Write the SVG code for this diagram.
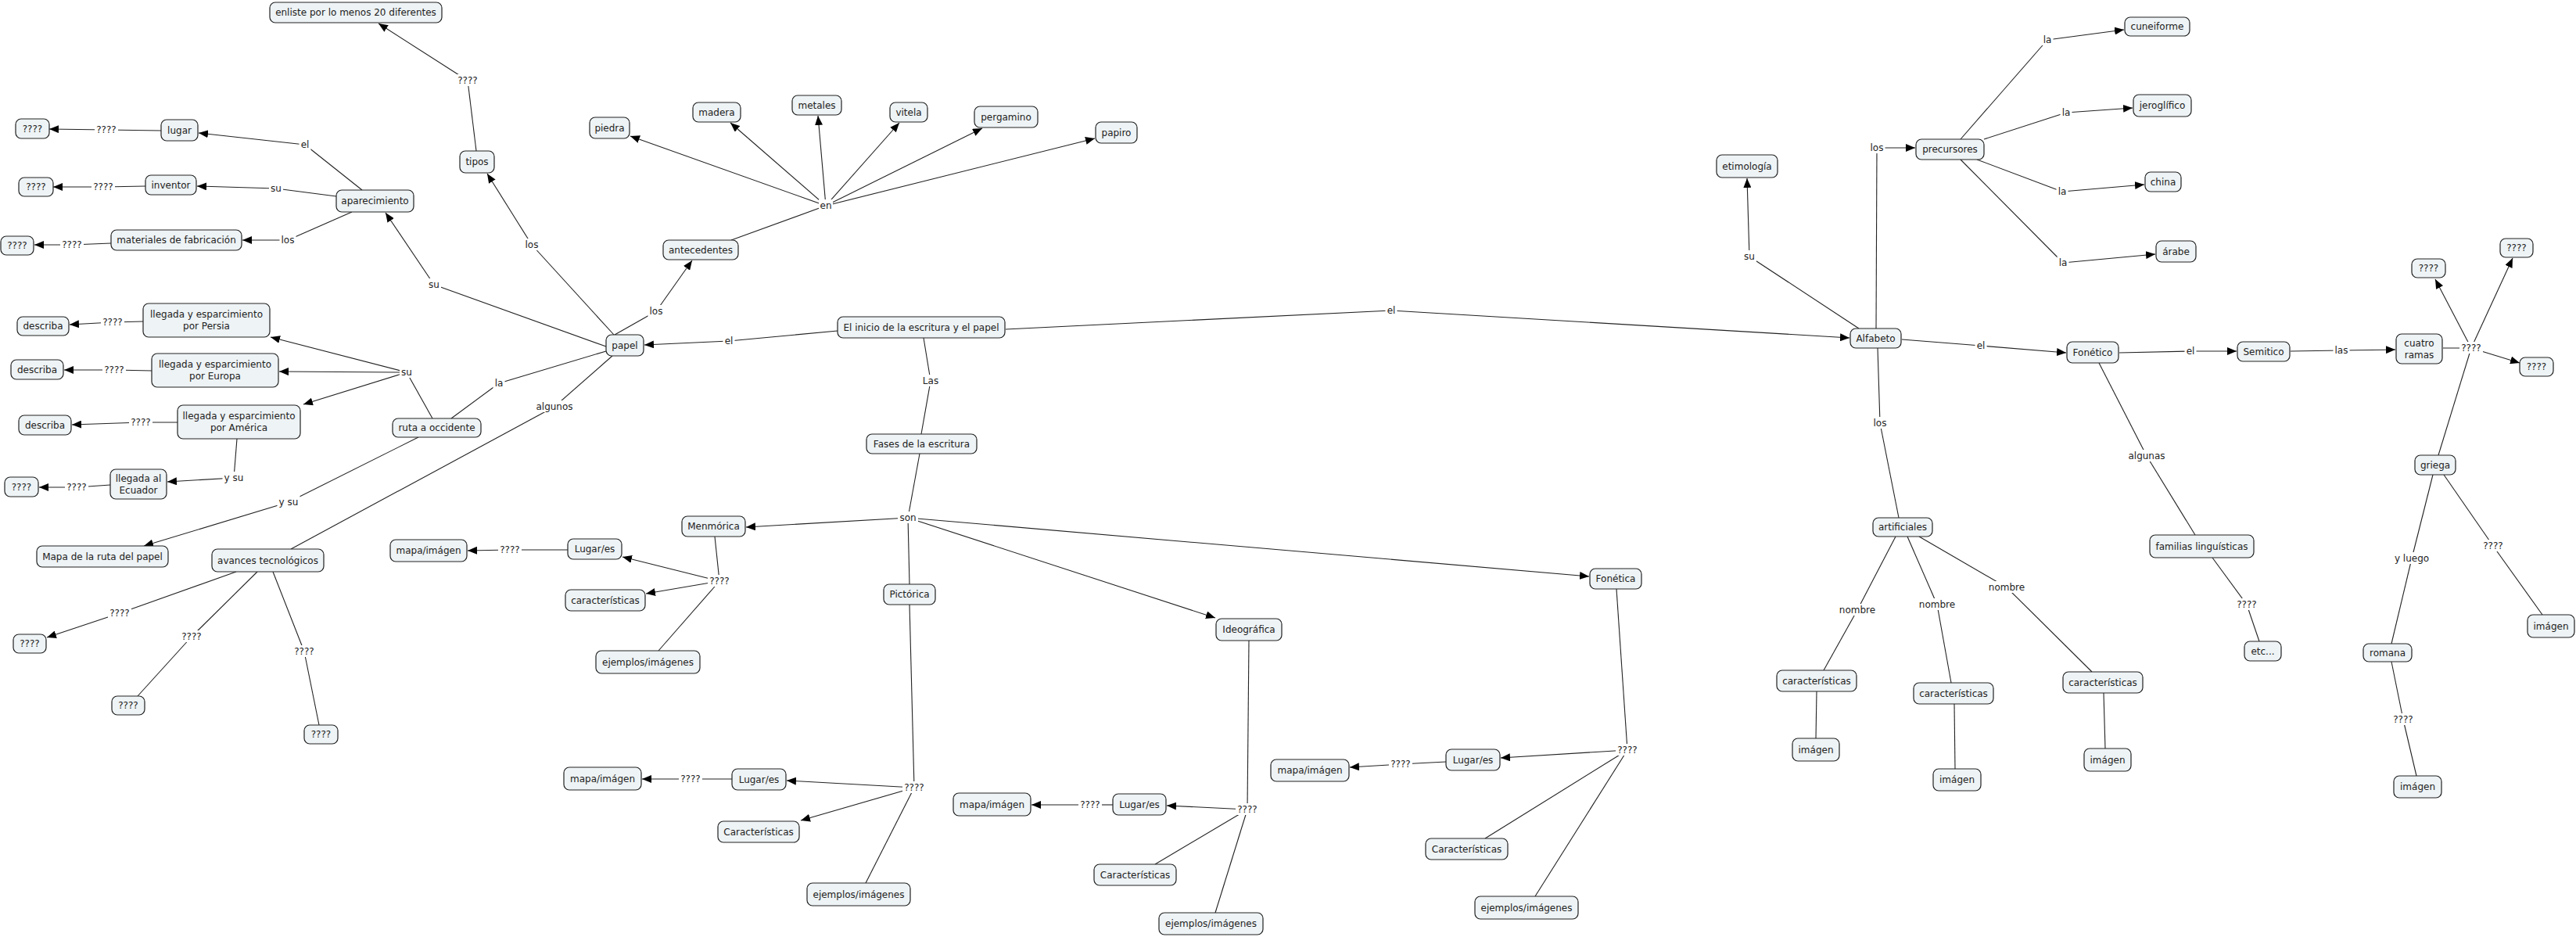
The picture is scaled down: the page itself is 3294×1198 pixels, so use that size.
<svg xmlns="http://www.w3.org/2000/svg" width="3294" height="1198" viewBox="0 0 3294 1198">
<style>
.bg{fill:#ffffff}
.node rect{fill:#eef3f5;stroke:#222;stroke-width:1.2}
.node text,.lbl text{font-family:"DejaVu Sans","Liberation Sans",sans-serif;font-size:12px;fill:#222;text-anchor:middle}
.lbl rect{fill:#ffffff;stroke:none}
#connectors path{fill:none;stroke:#222;stroke-width:1.1}
#connectors path.a{marker-end:url(#arr)}
</style>
<defs>
<marker id="arr" viewBox="0 0 12 10" markerWidth="12" markerHeight="10" refX="12" refY="5" orient="auto" markerUnits="userSpaceOnUse">
<path d="M0,0 L12,5 L0,10 z" fill="#000"/>
</marker>
</defs>
<rect class="bg" x="0" y="0" width="3294" height="1198"/>
<g id="connectors">
<!-- lines -->
<path d="M1071,423 L932,436"/><path class="a" d="M932,436 L824,441"/>
<path d="M786,428 L839,398"/><path class="a" d="M839,398 L885,333"/>
<path d="M935,307 L1056,263"/>
<path class="a" d="M1056,263 L806,174"/>
<path class="a" d="M1056,263 L934,157"/>
<path class="a" d="M1056,263 L1046,148"/>
<path class="a" d="M1056,263 L1150,157"/>
<path class="a" d="M1056,263 L1256,164"/>
<path class="a" d="M1056,263 L1400,177"/>
<path d="M785,428 L680,313"/><path class="a" d="M680,313 L623,222"/>
<path d="M609,193 L598,103"/><path class="a" d="M598,103 L484,30"/>
<path d="M775,443 L555,364"/><path class="a" d="M555,364 L493,272"/>
<path d="M463,243 L390,185"/><path class="a" d="M390,185 L254,170"/>
<path d="M430,251 L353,241"/><path class="a" d="M353,241 L252,238"/>
<path d="M450,271 L368,307"/><path class="a" d="M368,307 L310,307"/>
<path d="M206,167 L136,166"/><path class="a" d="M136,166 L63,165"/>
<path d="M186,238 L132,239"/><path class="a" d="M132,239 L68,239"/>
<path d="M142,311 L92,313"/><path class="a" d="M92,313 L44,313"/>
<path d="M775,449 L638,490"/><path d="M638,490 L577,535"/>
<path d="M553,535 L520,476"/>
<path class="a" d="M520,476 L346,431"/>
<path class="a" d="M520,476 L357,475"/>
<path class="a" d="M520,476 L388,517"/>
<path d="M183,411 L144,412"/><path class="a" d="M144,412 L89,415"/>
<path d="M194,474 L146,473"/><path class="a" d="M146,473 L82,473"/>
<path d="M227,540 L180,540"/><path class="a" d="M180,540 L92,543"/>
<path d="M303,561 L299,611"/><path class="a" d="M299,611 L214,616"/>
<path d="M141,620 L98,623"/><path class="a" d="M98,623 L50,623"/>
<path d="M535,559 L369,642"/><path class="a" d="M369,642 L184,698"/>
<path d="M783,455 L709,520"/><path d="M709,520 L372,702"/>
<path d="M302,731 L153,784"/><path class="a" d="M153,784 L60,815"/>
<path d="M329,731 L245,814"/><path d="M245,814 L176,890"/>
<path d="M349,731 L389,833"/><path d="M389,833 L408,927"/>
<path d="M1181,432 L1190,487"/><path d="M1190,487 L1178,555"/>
<path d="M1176,580 L1161,662"/>
<path class="a" d="M1161,662 L954,674"/>
<path d="M1161,662 L1163,747"/>
<path class="a" d="M1161,662 L1554,790"/>
<path class="a" d="M1161,662 L2032,737"/>
<path d="M914,686 L920,743"/>
<path class="a" d="M920,743 L796,712"/>
<path class="a" d="M920,743 L826,759"/>
<path d="M920,743 L842,832"/>
<path d="M726,703 L652,703"/><path class="a" d="M652,703 L598,704"/>
<path d="M1163,773 L1169,1007"/>
<path class="a" d="M1169,1007 L1006,998"/>
<path class="a" d="M1169,1007 L1024,1049"/>
<path d="M1169,1007 L1107,1129"/>
<path d="M936,996 L883,996"/><path class="a" d="M883,996 L821,996"/>
<path d="M1597,819 L1595,1035"/>
<path class="a" d="M1595,1035 L1492,1030"/>
<path d="M1595,1035 L1477,1105"/>
<path d="M1595,1035 L1554,1167"/>
<path d="M1423,1029 L1394,1029"/><path class="a" d="M1394,1029 L1319,1029"/>
<path d="M2067,753 L2081,959"/>
<path class="a" d="M2081,959 L1919,969"/>
<path d="M2081,959 L1899,1072"/>
<path d="M2081,959 L1963,1146"/>
<path d="M1849,974 L1791,977"/><path class="a" d="M1791,977 L1726,981"/>
<path d="M1286,421 L1779,397"/><path class="a" d="M1779,397 L2365,432"/>
<path d="M2377,420 L2237,328"/><path class="a" d="M2237,328 L2234,228"/>
<path d="M2399,420 L2400,189"/><path class="a" d="M2400,189 L2449,189"/>
<path d="M2507,178 L2618,51"/><path class="a" d="M2618,51 L2716,38"/>
<path d="M2537,178 L2642,144"/><path class="a" d="M2642,144 L2727,138"/>
<path d="M2528,204 L2637,245"/><path class="a" d="M2637,245 L2742,236"/>
<path d="M2507,204 L2638,336"/><path class="a" d="M2638,336 L2756,325"/>
<path d="M2432,434 L2533,442"/><path class="a" d="M2533,442 L2642,451"/>
<path d="M2710,451 L2801,449"/><path class="a" d="M2801,449 L2860,449"/>
<path d="M2929,449 L2994,448"/><path class="a" d="M2994,448 L3063,447"/>
<path d="M3124,445 L3160,445"/>
<path class="a" d="M3160,445 L3114,357"/>
<path class="a" d="M3160,445 L3213,330"/>
<path class="a" d="M3160,445 L3222,464"/>
<path d="M3160,445 L3118,582"/>
<path d="M2401,445 L2404,541"/><path d="M2404,541 L2428,662"/>
<path d="M2424,686 L2375,780"/><path d="M2375,780 L2332,857"/>
<path d="M2439,686 L2477,773"/><path d="M2477,773 L2495,873"/>
<path d="M2454,686 L2566,751"/><path d="M2566,751 L2675,859"/>
<path d="M2323,884 L2322,944"/>
<path d="M2499,900 L2500,983"/>
<path d="M2690,886 L2692,957"/>
<path d="M2684,464 L2745,583"/><path d="M2745,583 L2807,684"/>
<path d="M2829,713 L2873,773"/><path d="M2873,773 L2889,820"/>
<path d="M3111,607 L3084,714"/><path d="M3084,714 L3058,823"/>
<path d="M3125,607 L3188,698"/><path d="M3188,698 L3251,786"/>
<path d="M3058,846 L3073,920"/><path d="M3073,920 L3090,992"/>
<!-- labels -->
<g class="lbl"><rect x="924.5" y="428" width="15" height="15"/><text x="932" y="440">el</text></g>
<g class="lbl"><rect x="828.5" y="390" width="21" height="15"/><text x="839" y="402">los</text></g>
<g class="lbl"><rect x="1047" y="255" width="18" height="15"/><text x="1056" y="267">en</text></g>
<g class="lbl"><rect x="669.5" y="305" width="21" height="15"/><text x="680" y="317">los</text></g>
<g class="lbl"><rect x="583" y="95" width="30" height="15"/><text x="598" y="107">????</text></g>
<g class="lbl"><rect x="546" y="356" width="18" height="15"/><text x="555" y="368">su</text></g>
<g class="lbl"><rect x="382.5" y="177" width="15" height="15"/><text x="390" y="189">el</text></g>
<g class="lbl"><rect x="344" y="233" width="18" height="15"/><text x="353" y="245">su</text></g>
<g class="lbl"><rect x="357.5" y="299" width="21" height="15"/><text x="368" y="311">los</text></g>
<g class="lbl"><rect x="121" y="158" width="30" height="15"/><text x="136" y="170">????</text></g>
<g class="lbl"><rect x="117" y="231" width="30" height="15"/><text x="132" y="243">????</text></g>
<g class="lbl"><rect x="77" y="305" width="30" height="15"/><text x="92" y="317">????</text></g>
<g class="lbl"><rect x="630.5" y="482" width="15" height="15"/><text x="638" y="494">la</text></g>
<g class="lbl"><rect x="511" y="468" width="18" height="15"/><text x="520" y="480">su</text></g>
<g class="lbl"><rect x="129" y="404" width="30" height="15"/><text x="144" y="416">????</text></g>
<g class="lbl"><rect x="131" y="465" width="30" height="15"/><text x="146" y="477">????</text></g>
<g class="lbl"><rect x="165" y="532" width="30" height="15"/><text x="180" y="544">????</text></g>
<g class="lbl"><rect x="284.5" y="603" width="29" height="15"/><text x="299" y="615">y su</text></g>
<g class="lbl"><rect x="83" y="615" width="30" height="15"/><text x="98" y="627">????</text></g>
<g class="lbl"><rect x="354.5" y="634" width="29" height="15"/><text x="369" y="646">y su</text></g>
<g class="lbl"><rect x="683.5" y="512" width="51" height="15"/><text x="709" y="524">algunos</text></g>
<g class="lbl"><rect x="138" y="776" width="30" height="15"/><text x="153" y="788">????</text></g>
<g class="lbl"><rect x="230" y="806" width="30" height="15"/><text x="245" y="818">????</text></g>
<g class="lbl"><rect x="374" y="825" width="30" height="15"/><text x="389" y="837">????</text></g>
<g class="lbl"><rect x="1178" y="479" width="24" height="15"/><text x="1190" y="491">Las</text></g>
<g class="lbl"><rect x="1148" y="654" width="26" height="15"/><text x="1161" y="666">son</text></g>
<g class="lbl"><rect x="905" y="735" width="30" height="15"/><text x="920" y="747">????</text></g>
<g class="lbl"><rect x="637" y="695" width="30" height="15"/><text x="652" y="707">????</text></g>
<g class="lbl"><rect x="1154" y="999" width="30" height="15"/><text x="1169" y="1011">????</text></g>
<g class="lbl"><rect x="868" y="988" width="30" height="15"/><text x="883" y="1000">????</text></g>
<g class="lbl"><rect x="1580" y="1027" width="30" height="15"/><text x="1595" y="1039">????</text></g>
<g class="lbl"><rect x="1379" y="1021" width="30" height="15"/><text x="1394" y="1033">????</text></g>
<g class="lbl"><rect x="2066" y="951" width="30" height="15"/><text x="2081" y="963">????</text></g>
<g class="lbl"><rect x="1776" y="969" width="30" height="15"/><text x="1791" y="981">????</text></g>
<g class="lbl"><rect x="1771.5" y="389" width="15" height="15"/><text x="1779" y="401">el</text></g>
<g class="lbl"><rect x="2228" y="320" width="18" height="15"/><text x="2237" y="332">su</text></g>
<g class="lbl"><rect x="2389.5" y="181" width="21" height="15"/><text x="2400" y="193">los</text></g>
<g class="lbl"><rect x="2610.5" y="43" width="15" height="15"/><text x="2618" y="55">la</text></g>
<g class="lbl"><rect x="2634.5" y="136" width="15" height="15"/><text x="2642" y="148">la</text></g>
<g class="lbl"><rect x="2629.5" y="237" width="15" height="15"/><text x="2637" y="249">la</text></g>
<g class="lbl"><rect x="2630.5" y="328" width="15" height="15"/><text x="2638" y="340">la</text></g>
<g class="lbl"><rect x="2525.5" y="434" width="15" height="15"/><text x="2533" y="446">el</text></g>
<g class="lbl"><rect x="2793.5" y="441" width="15" height="15"/><text x="2801" y="453">el</text></g>
<g class="lbl"><rect x="2983.5" y="440" width="21" height="15"/><text x="2994" y="452">las</text></g>
<g class="lbl"><rect x="3145" y="437" width="30" height="15"/><text x="3160" y="449">????</text></g>
<g class="lbl"><rect x="2393.5" y="533" width="21" height="15"/><text x="2404" y="545">los</text></g>
<g class="lbl"><rect x="2349.5" y="772" width="51" height="15"/><text x="2375" y="784">nombre</text></g>
<g class="lbl"><rect x="2451.5" y="765" width="51" height="15"/><text x="2477" y="777">nombre</text></g>
<g class="lbl"><rect x="2540.5" y="743" width="51" height="15"/><text x="2566" y="755">nombre</text></g>
<g class="lbl"><rect x="2719.5" y="575" width="51" height="15"/><text x="2745" y="587">algunas</text></g>
<g class="lbl"><rect x="2858" y="765" width="30" height="15"/><text x="2873" y="777">????</text></g>
<g class="lbl"><rect x="3060" y="706" width="48" height="15"/><text x="3084" y="718">y luego</text></g>
<g class="lbl"><rect x="3173" y="690" width="30" height="15"/><text x="3188" y="702">????</text></g>
<g class="lbl"><rect x="3058" y="912" width="30" height="15"/><text x="3073" y="924">????</text></g>
</g>
<g id="n-enliste" class="node"><rect x="345" y="3" width="220" height="26" rx="7"/><text x="455" y="20">enliste por lo menos 20 diferentes</text></g>
<g id="n-tipos" class="node"><rect x="588" y="193" width="44" height="28" rx="7"/><text x="610" y="211">tipos</text></g>
<g id="n-lugar" class="node"><rect x="206" y="153" width="47" height="27" rx="7"/><text x="229.5" y="170.5">lugar</text></g>
<g id="n-q-lugar" class="node"><rect x="20" y="152" width="43" height="25" rx="7"/><text x="41.5" y="168.5">????</text></g>
<g id="n-inventor" class="node"><rect x="186" y="224" width="65" height="25" rx="7"/><text x="218.5" y="240.5">inventor</text></g>
<g id="n-q-inventor" class="node"><rect x="24" y="227" width="44" height="24" rx="7"/><text x="46" y="243">????</text></g>
<g id="n-aparecimiento" class="node"><rect x="430" y="243" width="99" height="28" rx="7"/><text x="479.5" y="261">aparecimiento</text></g>
<g id="n-materiales" class="node"><rect x="142" y="294" width="167" height="26" rx="7"/><text x="225.5" y="311">materiales de fabricación</text></g>
<g id="n-q-materiales" class="node"><rect x="1" y="302" width="42" height="24" rx="7"/><text x="22" y="318">????</text></g>
<g id="n-piedra" class="node"><rect x="754" y="150" width="51" height="27" rx="7"/><text x="779.5" y="167.5">piedra</text></g>
<g id="n-papel" class="node"><rect x="775" y="428" width="48" height="27" rx="7"/><text x="799" y="445.5">papel</text></g>
<g id="n-persia" class="node"><rect x="183" y="388" width="162" height="43" rx="7"/><text x="264" y="406">llegada y esparcimiento</text><text x="264" y="421">por Persia</text></g>
<g id="n-describa1" class="node"><rect x="22" y="405" width="66" height="24" rx="7"/><text x="55" y="421">describa</text></g>
<g id="n-europa" class="node"><rect x="194" y="452" width="162" height="43" rx="7"/><text x="275" y="470">llegada y esparcimiento</text><text x="275" y="485">por Europa</text></g>
<g id="n-describa2" class="node"><rect x="14" y="460" width="67" height="25" rx="7"/><text x="47.5" y="476.5">describa</text></g>
<g id="n-america" class="node"><rect x="227" y="518" width="157" height="43" rx="7"/><text x="305.5" y="536">llegada y esparcimiento</text><text x="305.5" y="551">por América</text></g>
<g id="n-describa3" class="node"><rect x="24" y="531" width="67" height="25" rx="7"/><text x="57.5" y="547.5">describa</text></g>
<g id="n-ruta" class="node"><rect x="502" y="535" width="113" height="24" rx="7"/><text x="558.5" y="551">ruta a occidente</text></g>
<g id="n-ecuador" class="node"><rect x="141" y="600" width="72" height="38" rx="7"/><text x="177" y="616">llegada al</text><text x="177" y="631">Ecuador</text></g>
<g id="n-q-ecuador" class="node"><rect x="6" y="610" width="43" height="25" rx="7"/><text x="27.5" y="626.5">????</text></g>
<g id="n-mapa-ruta" class="node"><rect x="47" y="698" width="168" height="27" rx="7"/><text x="131" y="715.5">Mapa de la ruta del papel</text></g>
<g id="n-avances" class="node"><rect x="271" y="702" width="143" height="29" rx="7"/><text x="342.5" y="720.5">avances tecnológicos</text></g>
<g id="n-q-av1" class="node"><rect x="17" y="811" width="42" height="24" rx="7"/><text x="38" y="827">????</text></g>
<g id="n-q-av2" class="node"><rect x="143" y="890" width="42" height="24" rx="7"/><text x="164" y="906">????</text></g>
<g id="n-q-av3" class="node"><rect x="389" y="927" width="43" height="24" rx="7"/><text x="410.5" y="943">????</text></g>
<g id="n-madera" class="node"><rect x="886" y="131" width="61" height="25" rx="7"/><text x="916.5" y="147.5">madera</text></g>
<g id="n-metales" class="node"><rect x="1013" y="122" width="63" height="25" rx="7"/><text x="1044.5" y="138.5">metales</text></g>
<g id="n-vitela" class="node"><rect x="1138" y="131" width="48" height="25" rx="7"/><text x="1162" y="147.5">vitela</text></g>
<g id="n-pergamino" class="node"><rect x="1246" y="136" width="81" height="27" rx="7"/><text x="1286.5" y="153.5">pergamino</text></g>
<g id="n-papiro" class="node"><rect x="1401" y="156" width="53" height="27" rx="7"/><text x="1427.5" y="173.5">papiro</text></g>
<g id="n-antecedentes" class="node"><rect x="848" y="307" width="96" height="25" rx="7"/><text x="896" y="323.5">antecedentes</text></g>
<g id="n-inicio" class="node"><rect x="1071" y="405" width="214" height="27" rx="7"/><text x="1178" y="422.5">El inicio de la escritura y el papel</text></g>
<g id="n-fases" class="node"><rect x="1108" y="555" width="141" height="25" rx="7"/><text x="1178.5" y="571.5">Fases de la escritura</text></g>
<g id="n-menmorica" class="node"><rect x="872" y="660" width="81" height="26" rx="7"/><text x="912.5" y="677">Menmórica</text></g>
<g id="n-lugar-m" class="node"><rect x="726" y="689" width="69" height="26" rx="7"/><text x="760.5" y="706">Lugar/es</text></g>
<g id="n-mapa-m" class="node"><rect x="499" y="690" width="98" height="28" rx="7"/><text x="548" y="708">mapa/imágen</text></g>
<g id="n-carac-m" class="node"><rect x="723" y="754" width="102" height="27" rx="7"/><text x="774" y="771.5">características</text></g>
<g id="n-ejemplos-m" class="node"><rect x="762" y="832" width="133" height="29" rx="7"/><text x="828.5" y="850.5">ejemplos/imágenes</text></g>
<g id="n-pictorica" class="node"><rect x="1130" y="747" width="66" height="26" rx="7"/><text x="1163" y="764">Pictórica</text></g>
<g id="n-lugar-p" class="node"><rect x="936" y="983" width="69" height="27" rx="7"/><text x="970.5" y="1000.5">Lugar/es</text></g>
<g id="n-mapa-p" class="node"><rect x="721" y="981" width="99" height="29" rx="7"/><text x="770.5" y="999.5">mapa/imágen</text></g>
<g id="n-carac-p" class="node"><rect x="918" y="1050" width="104" height="27" rx="7"/><text x="970" y="1067.5">Características</text></g>
<g id="n-ejemplos-p" class="node"><rect x="1032" y="1129" width="132" height="29" rx="7"/><text x="1098" y="1147.5">ejemplos/imágenes</text></g>
<g id="n-ideografica" class="node"><rect x="1555" y="791" width="84" height="28" rx="7"/><text x="1597" y="809">Ideográfica</text></g>
<g id="n-lugar-i" class="node"><rect x="1423" y="1015" width="68" height="27" rx="7"/><text x="1457" y="1032.5">Lugar/es</text></g>
<g id="n-mapa-i" class="node"><rect x="1219" y="1014" width="99" height="29" rx="7"/><text x="1268.5" y="1032.5">mapa/imágen</text></g>
<g id="n-carac-i" class="node"><rect x="1399" y="1105" width="105" height="27" rx="7"/><text x="1451.5" y="1122.5">Características</text></g>
<g id="n-ejemplos-i" class="node"><rect x="1482" y="1167" width="133" height="28" rx="7"/><text x="1548.5" y="1185">ejemplos/imágenes</text></g>
<g id="n-fonetica" class="node"><rect x="2033" y="727" width="66" height="26" rx="7"/><text x="2066" y="744">Fonética</text></g>
<g id="n-lugar-f" class="node"><rect x="1849" y="958" width="69" height="27" rx="7"/><text x="1883.5" y="975.5">Lugar/es</text></g>
<g id="n-mapa-f" class="node"><rect x="1625" y="971" width="100" height="28" rx="7"/><text x="1675" y="989">mapa/imágen</text></g>
<g id="n-carac-f" class="node"><rect x="1823" y="1072" width="105" height="27" rx="7"/><text x="1875.5" y="1089.5">Características</text></g>
<g id="n-ejemplos-f" class="node"><rect x="1886" y="1146" width="132" height="29" rx="7"/><text x="1952" y="1164.5">ejemplos/imágenes</text></g>
<g id="n-etimologia" class="node"><rect x="2195" y="198" width="78" height="29" rx="7"/><text x="2234" y="216.5">etimología</text></g>
<g id="n-alfabeto" class="node"><rect x="2366" y="420" width="65" height="25" rx="7"/><text x="2398.5" y="436.5">Alfabeto</text></g>
<g id="n-precursores" class="node"><rect x="2450" y="178" width="87" height="26" rx="7"/><text x="2493.5" y="195">precursores</text></g>
<g id="n-cuneiforme" class="node"><rect x="2717" y="22" width="83" height="24" rx="7"/><text x="2758.5" y="38">cuneiforme</text></g>
<g id="n-jeroglifico" class="node"><rect x="2728" y="121" width="74" height="28" rx="7"/><text x="2765" y="139">jeroglífico</text></g>
<g id="n-china" class="node"><rect x="2743" y="220" width="46" height="25" rx="7"/><text x="2766" y="236.5">china</text></g>
<g id="n-arabe" class="node"><rect x="2757" y="308" width="51" height="27" rx="7"/><text x="2782.5" y="325.5">árabe</text></g>
<g id="n-fonetico" class="node"><rect x="2643" y="437" width="66" height="27" rx="7"/><text x="2676" y="454.5">Fonético</text></g>
<g id="n-semitico" class="node"><rect x="2861" y="437" width="67" height="25" rx="7"/><text x="2894.5" y="453.5">Semitico</text></g>
<g id="n-cuatro" class="node"><rect x="3064" y="427" width="59" height="38" rx="7"/><text x="3093.5" y="442.5">cuatro</text><text x="3093.5" y="457.5">ramas</text></g>
<g id="n-q-r1" class="node"><rect x="3084" y="331" width="43" height="24" rx="7"/><text x="3105.5" y="347">????</text></g>
<g id="n-q-r2" class="node"><rect x="3197" y="305" width="42" height="24" rx="7"/><text x="3218" y="321">????</text></g>
<g id="n-q-r3" class="node"><rect x="3222" y="457" width="43" height="24" rx="7"/><text x="3243.5" y="473">????</text></g>
<g id="n-griega" class="node"><rect x="3088" y="582" width="52" height="25" rx="7"/><text x="3114" y="598.5">griega</text></g>
<g id="n-artificiales" class="node"><rect x="2395" y="662" width="76" height="24" rx="7"/><text x="2433" y="678">artificiales</text></g>
<g id="n-carac-a1" class="node"><rect x="2272" y="857" width="102" height="27" rx="7"/><text x="2323" y="874.5">características</text></g>
<g id="n-imagen-a1" class="node"><rect x="2292" y="944" width="60" height="29" rx="7"/><text x="2322" y="962.5">imágen</text></g>
<g id="n-carac-a2" class="node"><rect x="2447" y="873" width="102" height="27" rx="7"/><text x="2498" y="890.5">características</text></g>
<g id="n-imagen-a2" class="node"><rect x="2472" y="983" width="61" height="28" rx="7"/><text x="2502.5" y="1001">imágen</text></g>
<g id="n-carac-a3" class="node"><rect x="2638" y="859" width="102" height="27" rx="7"/><text x="2689" y="876.5">características</text></g>
<g id="n-imagen-a3" class="node"><rect x="2665" y="957" width="60" height="29" rx="7"/><text x="2695" y="975.5">imágen</text></g>
<g id="n-familias" class="node"><rect x="2749" y="684" width="133" height="29" rx="7"/><text x="2815.5" y="702.5">familias linguísticas</text></g>
<g id="n-etc" class="node"><rect x="2870" y="820" width="47" height="25" rx="7"/><text x="2893.5" y="836.5">etc...</text></g>
<g id="n-imagen-griega" class="node"><rect x="3232" y="786" width="60" height="29" rx="7"/><text x="3262" y="804.5">imágen</text></g>
<g id="n-romana" class="node"><rect x="3022" y="823" width="62" height="23" rx="7"/><text x="3053" y="838.5">romana</text></g>
<g id="n-imagen-romana" class="node"><rect x="3061" y="992" width="61" height="28" rx="7"/><text x="3091.5" y="1010">imágen</text></g>
</svg>
